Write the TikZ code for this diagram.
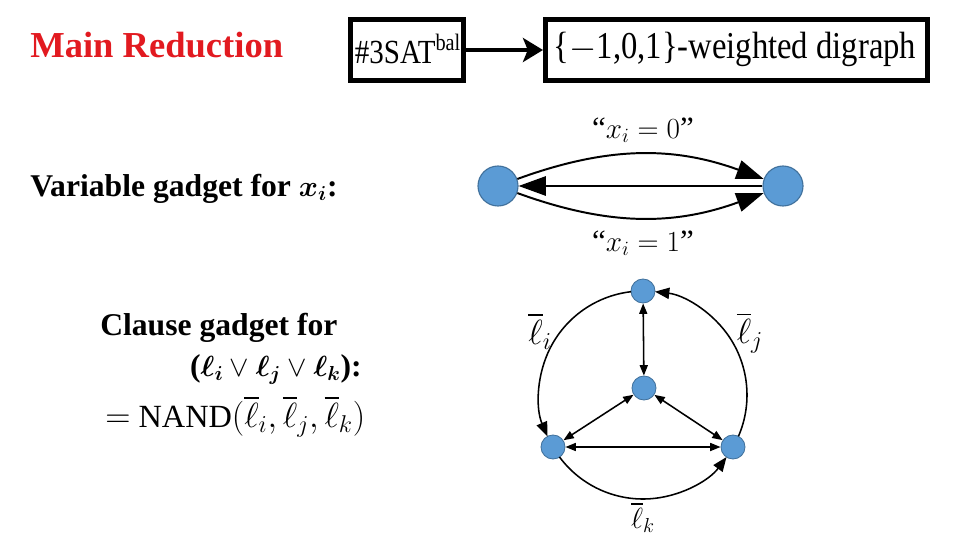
\documentclass[tikz,border=0pt]{standalone}
\usepackage{amsmath}
\usepackage{fontspec}
\setmainfont{Liberation Serif}
\newfontfamily\condfont[FakeStretch=0.86]{Liberation Serif}
\usetikzlibrary{arrows.meta}
\definecolor{nodeblue}{RGB}{91,155,213}
\definecolor{nodeedge}{RGB}{65,113,156}
\definecolor{titlered}{RGB}{226,26,32}
\begin{document}
\begin{tikzpicture}[x=0.025cm,y=0.025cm,
  vnode/.style={circle, fill=nodeblue, draw=nodeedge, line width=0.8pt, minimum size=1cm, inner sep=0pt},
  cnode/.style={circle, fill=nodeblue, draw=nodeedge, line width=0.6pt, minimum size=0.6cm, inner sep=0pt},
  box/.style={draw, line width=3.5pt, inner sep=0pt},
  boxtxt/.style={inner sep=0pt, font=\condfont\fontsize{27}{30}\selectfont},
  bigarr/.style={line width=1.4pt, -{Triangle[length=0.68cm,width=0.48cm]}},
  carr/.style={line width=1.1pt, -{Triangle[length=0.36cm,width=0.28cm]}},
  darr/.style={line width=1.1pt, {Triangle[length=0.26cm,width=0.2cm]}-{Triangle[length=0.26cm,width=0.2cm]}},
  boldtxt/.style={font=\bfseries\fontsize{22.5}{27}\selectfont, inner sep=0pt},
  mtxt/.style={font=\fontsize{22}{26}\selectfont, inner sep=0pt},
  ltxt/.style={font=\fontsize{26}{30}\selectfont, inner sep=0pt}
]
\useasboundingbox (0,0) rectangle (960,-540);

% header
\node[anchor=base west, inner sep=0pt, text=titlered, font=\bfseries\fontsize{26}{30}\selectfont] (title) at (30,-57) {Main Reduction};
\node[box, minimum width=2.825cm, minimum height=1.525cm] (sat) at (407,-50) {};
\node[box, minimum width=9.55cm, minimum height=1.525cm] (dig) at (736.5,-50) {};
\draw[line width=3.5pt, -{Stealth[length=0.5cm,width=0.6cm,inset=0.12cm]}] (sat.east) -- (dig.west);
\node[boxtxt, font=\condfont\fontsize{24}{28}\selectfont] (sattxt) at (408,-49) {\#3SAT\textsuperscript{bal}};
\node[boxtxt] (digtxt) at (735,-49) {\{$-$1,0,1\}-weighted digraph};

% variable gadget
\node[boldtxt, anchor=base west] (vlab) at (30,-196) {Variable gadget for $\boldsymbol{x_i}$:};
\node[vnode] (va) at (498,-186) {};
\node[vnode] (vb) at (783,-186) {};
\draw[bigarr] (va.20) to[out=20,in=160] (vb.160);
\draw[bigarr] (vb.west) -- (va.east);
\draw[bigarr] (va.-20) to[out=-20,in=200] (vb.200);
\node[mtxt] (l0) at (643,-130) {``$x_i = 0$''};
\node[mtxt] (l1) at (643,-243) {``$x_i = 1$''};

% clause text
\node[boldtxt, anchor=base west] (clab) at (100,-335) {Clause gadget for};
\node[boldtxt, anchor=base east, font=\bfseries\fontsize{22.5}{26}\selectfont] (clit) at (362,-376) {($\boldsymbol{\ell_i} \vee \boldsymbol{\ell_j} \vee \boldsymbol{\ell_k}$):};
\node[mtxt, anchor=base west, font=\fontsize{23}{28}\selectfont] (nand) at (105,-427) {$=$ NAND$(\overline{\ell}_i, \overline{\ell}_j, \overline{\ell}_k)$};

% clause gadget
\coordinate (O) at (643,-395);
\node[cnode] (ct) at (643,-291) {};
\node[cnode] (cc) at (644,-388) {};
\node[cnode] (cl) at (553,-447) {};
\node[cnode] (cr) at (733,-447) {};
\draw[carr] ([shift={(96.6:104)}]O) arc[start angle=96.6, end angle=203.4, radius=2.6cm];
\draw[carr] ([shift={(216.6:104)}]O) arc[start angle=216.6, end angle=323.4, radius=2.6cm];
\draw[carr] ([shift={(336.6:104)}]O) arc[start angle=336.6, end angle=443.4, radius=2.6cm];
\draw[darr] (ct) -- (cc);
\draw[darr] (cc) -- (cl);
\draw[darr] (cc) -- (cr);
\draw[darr] (cl) -- (cr);
\node[ltxt] (li) at (540,-331) {$\overline{\ell}_i$};
\node[ltxt] (lj) at (750,-333) {$\overline{\ell}_j$};
\node[ltxt, anchor=north, font=\fontsize{21}{24}\selectfont] (lk) at (643,-502) {$\overline{\ell}_k$};
\end{tikzpicture}
\end{document}
